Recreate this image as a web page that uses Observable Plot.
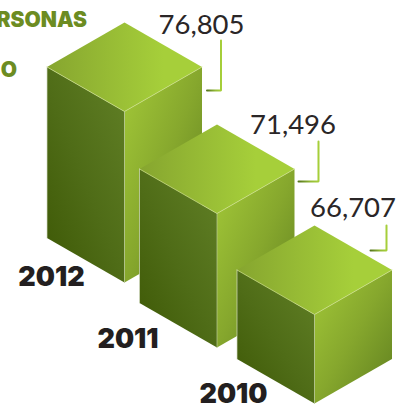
<!DOCTYPE html>
<html>
<head>
<meta charset="utf-8">
<script src="https://cdn.jsdelivr.net/npm/d3@7"></script>
<script src="https://cdn.jsdelivr.net/npm/@observablehq/plot@0.6"></script>
<style>html,body{margin:0;padding:0;background:#fff;overflow:hidden}svg{display:block}</style>
</head>
<body>
<div id="chart"></div>
<script>
// Data
const years = [2012, 2011, 2010];
const values = [76805, 71496, 66707];
const titleLines = ["PERSONAS", "O"];

// Layout of the isometric drawing
const frontX = d3.scaleOrdinal(years, [124, 216.5, 314]);
const groundY = d3.scaleOrdinal(years, [282, 347, 403]);
const barHeight = d3.scaleLinear([66707, 71496, 76805], [89, 134, 171]);
const halfW = 77.5, halfD = 44.5;
const leaderTop = d3.scaleOrdinal(years, [40, 141, 225]);
const leaderBottom = d3.scaleOrdinal(years, [90, 181, 250]);
const leaderLeft = d3.scaleOrdinal(years, [206.5, 298, 370]);
const leaderRight = d3.scaleOrdinal(years, [220.5, 318, 386]);
const labelX = d3.scaleOrdinal(years, [201, 292.5, 352.5]);
const labelY = d3.scaleOrdinal(years, [25, 125, 208]);
const yearX = d3.scaleOrdinal(years, [51, 127.5, 233]);
const yearY = d3.scaleOrdinal(years, [277, 339, 394]);

const bars = years.map((year, i) => {
  const x = frontX(year), g = groundY(year), t = g - barHeight(values[i]);
  return {year, value: values[i], x, g, t};
});
const poly = (pts) => pts.map(([x, y]) => ({x, y}));
const faces = (b) => ({
  top: poly([[b.x, b.t], [b.x - halfW, b.t - halfD], [b.x, b.t - 2 * halfD], [b.x + halfW, b.t - halfD]]),
  left: poly([[b.x, b.t], [b.x - halfW, b.t - halfD], [b.x - halfW, b.g - halfD], [b.x, b.g]]),
  right: poly([[b.x, b.t], [b.x + halfW, b.t - halfD], [b.x + halfW, b.g - halfD], [b.x, b.g]])
});

const gradient = (id, x1, y1, x2, y2, stops) =>
  `<linearGradient id="${id}" x1="${x1}" y1="${y1}" x2="${x2}" y2="${y2}">` +
  stops.map(([o, c]) => `<stop offset="${o}" stop-color="${c}"/>`).join("") + `</linearGradient>`;

const defs = () => {
  const g = document.createElementNS("http://www.w3.org/2000/svg", "g");
  g.innerHTML = "<defs>" +
    gradient("faceTop", 0, 0.5, 1, 0.5, [[0, "#86a52f"], [0.75, "#a6cf3a"], [1, "#a6cf3a"]]) +
    gradient("faceLeft", 1, 0, 0.1, 1, [[0, "#618026"], [0.55, "#4f6c17"], [1, "#3f5a07"]]) +
    gradient("faceRight", 0, 0, 1, 1, [[0, "#a3c938"], [0.5, "#86a72d"], [1, "#5f7f1f"]]) +
    gradient("leader", 0, 0.5, 1, 0.5, [[0, "#55751c"], [0.6, "#94bb36"], [1, "#a6cf3a"]]) +
    "</defs>";
  return g;
};

const faceMarks = bars.flatMap((b) => {
  const f = faces(b);
  const mk = (pts, fill) => Plot.line(pts, {x: "x", y: "y", fill, stroke: "none"});
  const edge = (pts, stroke, w) => Plot.line(pts, {x: "x", y: "y", stroke, strokeWidth: w});
  return [
    mk(f.left, "url(#faceLeft)"),
    mk(f.right, "url(#faceRight)"),
    mk(f.top, "url(#faceTop)"),
    edge([f.top[1], f.top[0], f.top[3]], "#cfe08f", 0.7),
    edge(poly([[b.x, b.t], [b.x, b.g]]), "#b9c99a", 0.7),
    edge(poly([[b.x - halfW, b.t - halfD], [b.x - halfW, b.g - halfD]]), "#d6dcc4", 0.7)
  ];
});

const leaderMarks = years.map((y) =>
  Plot.line(poly([[leaderRight(y), leaderTop(y)], [leaderRight(y), leaderBottom(y)], [leaderLeft(y), leaderBottom(y)]]),
    {x: "x", y: "y", stroke: "url(#leader)", strokeWidth: 2, strokeLinejoin: "miter"}));

const chart = Plot.plot({
  width: 403,
  height: 406,
  margin: 0,
  style: {background: "#fff", overflow: "hidden"},
  x: {type: "linear", domain: [0, 403], range: [0, 403], axis: null},
  y: {type: "linear", domain: [0, 406], range: [0, 406], axis: null},
  marks: [
    defs,
    ...faceMarks,
    ...leaderMarks,
    Plot.text(titleLines, {
      x: [86.5, 16.5], y: [20, 70], text: (d) => d, textAnchor: "end",
      fontFamily: "Inter", fontWeight: 900, fontSize: 21, fill: "#6c8c22"
    }),
    Plot.text(bars, {
      x: (d) => labelX(d.year), y: (d) => labelY(d.year), text: (d) => d3.format(",")(d.value),
      fontFamily: "Lato", fontWeight: 400, fontSize: 27.5, fill: "#2a2627"
    }),
    Plot.text(bars, {
      x: (d) => yearX(d.year), y: (d) => yearY(d.year), text: (d) => String(d.year),
      fontFamily: "Inter", fontWeight: 900, fontSize: 27, fill: "#231f20"
    })
  ]
});
document.getElementById("chart").append(chart);
</script>
</body>
</html>
